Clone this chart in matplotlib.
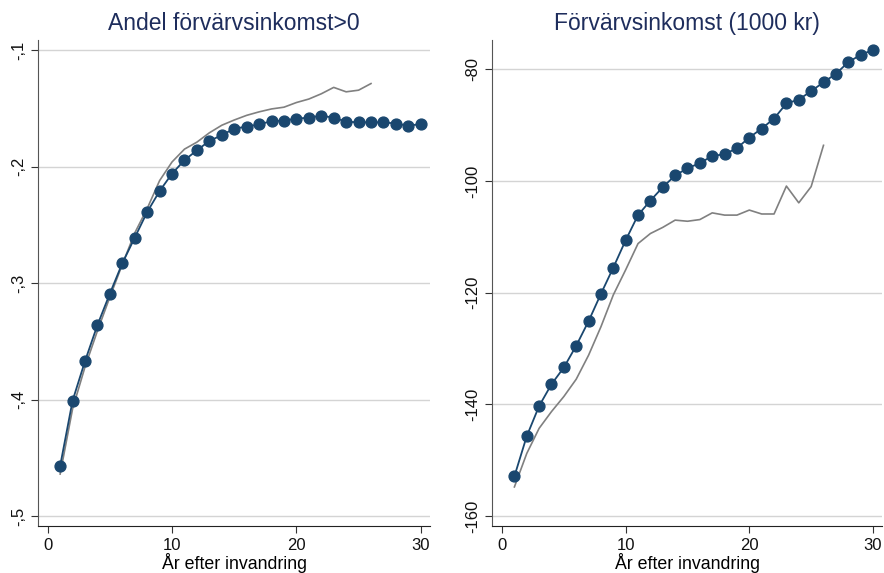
import matplotlib
matplotlib.use('Agg')
import matplotlib.pyplot as plt

plt.rcParams['font.family'] = ['Liberation Sans', 'DejaVu Sans']

years = list(range(1, 31))
years_gray = list(range(1, 27))

andel_dots = [-0.457, -0.401, -0.367, -0.336, -0.309, -0.283, -0.261, -0.239, -0.221, -0.206,
              -0.1945, -0.186, -0.178, -0.173, -0.1674, -0.1657, -0.1637, -0.161, -0.1605, -0.1588,
              -0.158, -0.1563, -0.158, -0.1614, -0.162, -0.162, -0.162, -0.163, -0.165, -0.1634]
andel_gray = [-0.464, -0.408, -0.372, -0.341, -0.312, -0.284, -0.257, -0.236, -0.212, -0.196,
              -0.185, -0.179, -0.171, -0.1645, -0.16, -0.156, -0.153, -0.1505, -0.149, -0.145,
              -0.142, -0.1375, -0.132, -0.1358, -0.1344, -0.1287]

ink_dots = [-152.9, -145.7, -140.3, -136.4, -133.4, -129.5, -125.1, -120.2, -115.5, -110.6,
            -106.1, -103.5, -101.1, -99.0, -97.7, -96.8, -95.5, -95.2, -94.1, -92.2,
            -90.6, -88.8, -86.1, -85.4, -83.9, -82.3, -80.8, -78.7, -77.4, -76.5]
ink_gray = [-154.8, -148.8, -144.3, -141.3, -138.6, -135.5, -131.2, -126.1, -120.4, -115.9,
            -111.2, -109.4, -108.3, -107.0, -107.2, -106.9, -105.7, -106.1, -106.1, -105.2,
            -105.9, -105.9, -100.9, -103.9, -101.0, -93.6]

left_ticks = [-0.1, -0.2, -0.3, -0.4, -0.5]
left_labels = ['-,1', '-,2', '-,3', '-,4', '-,5']
right_ticks = [-80, -100, -120, -140, -160]
right_labels = ['-80', '-100', '-120', '-140', '-160']
x_ticks = [0, 10, 20, 30]

navy = '#1a476f'
gray = '#808080'
title_col = '#1e2d5c'

fig = plt.figure(figsize=(8.84, 5.73), dpi=100)
ax1 = fig.add_axes([0.043, 0.082, 0.4435, 0.848])
ax2 = fig.add_axes([0.557, 0.082, 0.441, 0.848])

panels = [
    (ax1, andel_dots, andel_gray, 'Andel förvärvsinkomst>0', left_ticks, left_labels, (-0.5086, -0.0914)),
    (ax2, ink_dots, ink_gray, 'Förvärvsinkomst (1000 kr)', right_ticks, right_labels, (-161.8, -74.75)),
]

for ax, dots, grayline, title, yt, yl, ylim in panels:
    ax.plot(years_gray, grayline, color=gray, lw=1.2, zorder=2)
    ax.plot(years, dots, color=navy, lw=1.3, marker='o', markersize=7.8, zorder=3)
    ax.set_ylim(*ylim)
    ax.set_xlim(-0.78, 30.75)
    ax.set_yticks(yt)
    ax.set_yticklabels(yl, rotation=90, va='center')
    ax.set_xticks(x_ticks)
    ax.grid(axis='y', color='#d4d4d4', lw=1)
    ax.set_axisbelow(True)
    for s in ['top', 'right']:
        ax.spines[s].set_visible(False)
    ax.spines['left'].set_color('#555555')
    ax.spines['bottom'].set_color('#222222')
    ax.tick_params(axis='both', labelsize=12, length=5, color='#333333', labelcolor='#111111')
    ax.set_title(title, fontsize=16.5, color=title_col, pad=7)
    ax.set_xlabel('År efter invandring', fontsize=12.8, labelpad=0)

fig.savefig('out.png', dpi=100)
